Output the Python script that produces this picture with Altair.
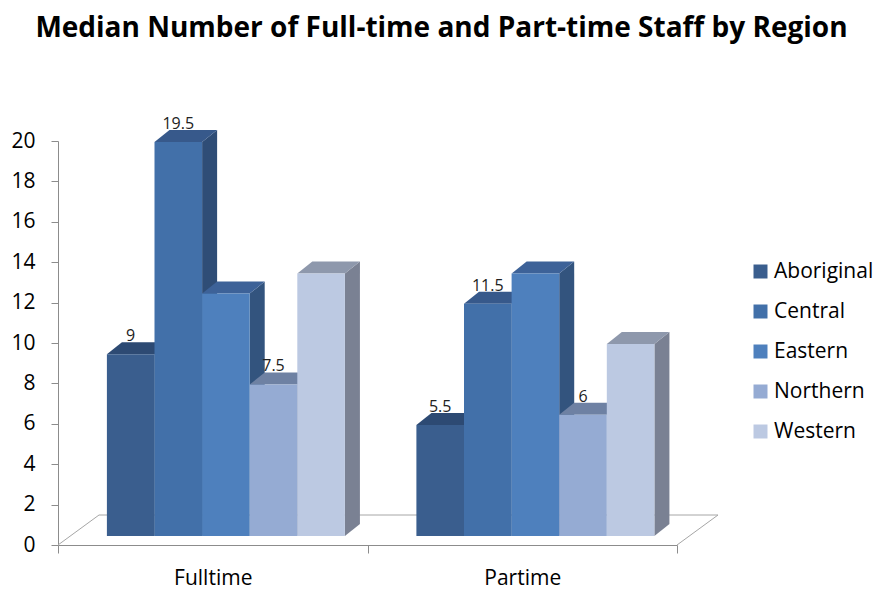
import altair as alt
import pandas as pd

categories = ["Fulltime", "Partime"]
regions = ["Aboriginal", "Central", "Eastern", "Northern", "Western"]
fulltime = [9, 19.5, 12, 7.5, 13]
partime = [5.5, 11.5, 13, 6, 9.5]
labelled = ["Aboriginal", "Central", "Northern"]
y_ticks = [0, 2, 4, 6, 8, 10, 12, 14, 16, 18, 20]

front_colors = ["#3a5e8e", "#4270a9", "#4e80bd", "#95abd3", "#bcc9e2"]
top_colors = ["#2d4a73", "#37598b", "#3d6298", "#6e81a3", "#8e98ac"]
side_colors = ["#2b466d", "#2f4d76", "#33547e", "#6d7c99", "#7a8193"]

values = {"Fulltime": fulltime, "Partime": partime}

# 3D geometry constants, in axis units
GROUP_START = 0.158
BAR_W = 0.1538
BASE = 0.446
DEPTH_X = 0.0485
DEPTH_Y = 0.594
FLOOR_X = 0.1325
FLOOR_Y = 1.485

fronts, sides, tops, labels = [], [], [], []
for c, cat in enumerate(categories):
    for s, reg in enumerate(regions):
        v = values[cat][s]
        left = c + GROUP_START + s * BAR_W
        right = left + BAR_W
        top = BASE + v
        bid = f"{cat}-{reg}"
        fronts.append(dict(bar=bid, region=reg, x=left, x2=right, y=BASE, y2=top))
        sides.append(dict(bar=bid, fill=side_colors[s], x=right, y=top, y2=BASE))
        sides.append(dict(bar=bid, fill=side_colors[s], x=right + DEPTH_X,
                          y=top + DEPTH_Y, y2=BASE + DEPTH_Y))
        tops.append(dict(bar=bid, fill=top_colors[s], y=top, x=left, x2=right))
        tops.append(dict(bar=bid, fill=top_colors[s], y=top + DEPTH_Y,
                         x=left + DEPTH_X, x2=right + DEPTH_X))
        if reg in labelled:
            labels.append(dict(x=(left + right) / 2, y=top + DEPTH_Y, text=f"{v:g}"))

floor = pd.DataFrame(dict(
    x=[0, FLOOR_X, len(categories) + FLOOR_X, len(categories)],
    y=[0, FLOOR_Y, FLOOR_Y, 0],
    o=[0, 1, 2, 3],
))

FONT = "Open Sans"
xs = alt.Scale(domain=[0, len(categories)], nice=False, zero=False)
ys = alt.Scale(domain=[0, 20], nice=False)

label_expr = " : ".join(
    [f"datum.value == {i + 0.5} ? '{c}'" for i, c in enumerate(categories)]
) + " : ''"
xaxis = alt.Axis(
    values=[0, 0.5, 1, 1.5, 2], labelExpr=label_expr, title=None, grid=False,
    tickSize=8, tickColor="#8c8c8c", domainColor="#8c8c8c",
    tickOpacity={"condition": {"test": "datum.value % 1 != 0", "value": 0}, "value": 1},
    labelFontSize=21, labelFont=FONT, labelColor="#000000", labelPadding=14,
)
yaxis = alt.Axis(
    values=y_ticks, title=None, grid=False, tickSize=7, tickColor="#8c8c8c",
    domainColor="#8c8c8c", labelFontSize=21, labelFont=FONT, labelColor="#000000",
    labelPadding=16,
)

X = lambda f="x": alt.X(f"{f}:Q", scale=xs, axis=xaxis)
Y = lambda f="y": alt.Y(f"{f}:Q", scale=ys, axis=yaxis)

floor_layer = alt.Chart(floor).mark_line(color="#a6a6a6", strokeWidth=1).encode(
    x=X(), y=Y(), order="o:Q"
)

side_layer = alt.Chart(pd.DataFrame(sides)).mark_area(opacity=1).encode(
    x=X(), y=Y(), y2="y2:Q",
    fill=alt.Fill("fill:N", scale=None), detail="bar:N",
)

top_layer = alt.Chart(pd.DataFrame(tops)).mark_area(orient="horizontal", opacity=1).encode(
    y=Y(), x=X(), x2="x2:Q",
    fill=alt.Fill("fill:N", scale=None), detail="bar:N",
)

front_layer = alt.Chart(pd.DataFrame(fronts)).mark_rect().encode(
    x=X(), x2="x2:Q", y=Y(), y2="y2:Q",
    color=alt.Color(
        "region:N",
        scale=alt.Scale(domain=regions, range=front_colors),
        legend=alt.Legend(
            title=None, orient="none", legendX=692, legendY=120,
            labelFontSize=21, labelFont=FONT, labelColor="#000000",
            symbolType="square", symbolSize=196, symbolStrokeWidth=0,
            rowPadding=18, labelOffset=3,
        ),
    ),
)

label_layer = alt.Chart(pd.DataFrame(labels)).mark_text(
    baseline="bottom", dy=2, fontSize=16, font=FONT, color="#222222"
).encode(x=X(), y=Y(), text="text:N")

chart = alt.layer(
    floor_layer, side_layer, top_layer, front_layer, label_layer
).properties(
    width=619, height=404,
    title=alt.Title(
        "Median Number of Full-time and Part-time Staff by Region",
        font=FONT, fontSize=28, fontWeight="bold", color="#000000",
        anchor="middle", dx=74, offset=73,
    ),
    autosize=alt.AutoSizeParams(type="none"),
    padding={"left": 58, "top": 141, "right": 204, "bottom": 54},
).configure(background="#ffffff").configure_view(stroke=None)

chart.save("out.html", embed_options={"renderer": "svg", "actions": False})
